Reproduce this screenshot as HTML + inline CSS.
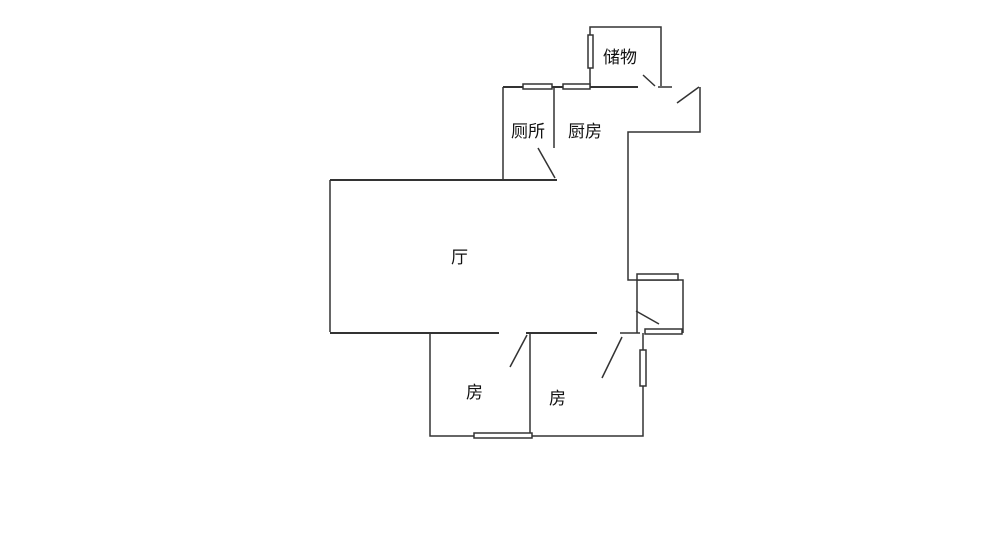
<!DOCTYPE html>
<html><head><meta charset="utf-8"><style>
body{margin:0;background:#fff;width:1000px;height:530px;overflow:hidden}
text{font-family:"Liberation Sans","Noto Sans CJK SC",sans-serif;font-size:17px;fill:#111}
</style></head><body>
<svg width="1000" height="530" viewBox="0 0 1000 530" xmlns="http://www.w3.org/2000/svg">
<g stroke="#333" stroke-width="1.5" fill="none">
<!-- storage -->
<polyline points="590,86 590,27 661,27 661,86"/>
<rect x="588" y="35" width="5" height="33" fill="#fff"/>
<line x1="643" y1="75" x2="655" y2="86"/>
<line x1="658" y1="87" x2="672" y2="87"/>
<!-- top wall -->
<line x1="503" y1="87" x2="638" y2="87" stroke-width="2"/>
<rect x="523" y="84" width="29" height="5" fill="#fff"/>
<rect x="563" y="84" width="27" height="5" fill="#fff"/>
<!-- right part -->
<line x1="677" y1="103" x2="699" y2="87"/>
<polyline points="700,87 700,132 628,132 628,280 683,280 683,333"/>
<rect x="637" y="274" width="41" height="6" fill="#fff"/>
<line x1="637" y1="280" x2="637" y2="333"/>
<line x1="636" y1="311" x2="659" y2="324"/>
<rect x="645" y="329" width="37" height="5" fill="#fff"/>
<line x1="620" y1="333" x2="640" y2="333"/>
<!-- toilet -->
<line x1="503" y1="87" x2="503" y2="180"/>
<line x1="554" y1="87" x2="554" y2="148"/>
<line x1="538" y1="148" x2="555" y2="178"/>
<line x1="330" y1="180" x2="557" y2="180" stroke-width="2"/>
<!-- living -->
<line x1="330" y1="180" x2="330" y2="332"/>
<line x1="330" y1="333" x2="499" y2="333" stroke-width="2"/>
<line x1="526" y1="333" x2="597" y2="333" stroke-width="2"/>
<!-- rooms -->
<polyline points="430,333 430,436 643,436 643,333"/>
<line x1="530" y1="333" x2="530" y2="436"/>
<rect x="474" y="433" width="58" height="5" fill="#fff"/>
<rect x="640" y="350" width="6" height="36" fill="#fff"/>
<line x1="527" y1="335" x2="510" y2="367"/>
<line x1="622" y1="337" x2="602" y2="378"/>
</g>
<text x="603" y="63">储物</text>
<text x="511" y="137">厕所</text>
<text x="568" y="137">厨房</text>
<text x="451" y="263">厅</text>
<text x="466" y="398">房</text>
<text x="549" y="404">房</text>
</svg>
</body></html>
